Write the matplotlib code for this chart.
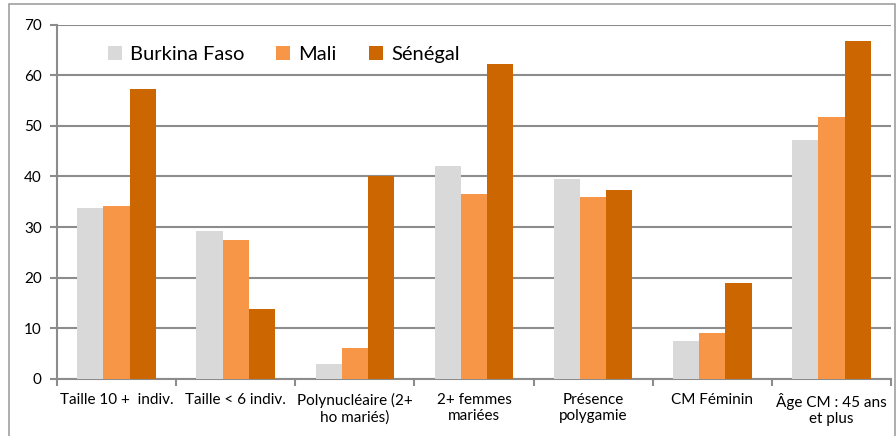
import matplotlib
matplotlib.use("Agg")
import matplotlib.pyplot as plt
import matplotlib.patches as mpatches
import numpy as np

categories = [
    "Taille 10 +  indiv.",
    "Taille < 6 indiv.",
    "Polynucléaire (2+\nho mariés)",
    "2+ femmes\nmariées",
    "Présence\npolygamie",
    "CM Féminin",
    "Âge CM : 45 ans\net plus",
]
series_names = ["Burkina Faso", "Mali", "Sénégal"]
burkina = [33.7, 29.3, 3.0, 42.1, 39.5, 7.5, 47.2]
mali = [34.1, 27.4, 6.1, 36.6, 36.0, 9.1, 51.8]
senegal = [57.2, 13.8, 40.1, 62.3, 37.3, 18.9, 66.7]
yticks = [0, 10, 20, 30, 40, 50, 60, 70]

COLORS = ["#D9D9D9", "#F79646", "#CC6600"]
GRID = "#8C8C8C"
FONT = "Lato"

fig = plt.figure(figsize=(8.96, 4.36), dpi=100)
ax = fig.add_axes([0.0636, 0.1314, 0.9308, 0.8119])

x = np.arange(len(categories))
width = 0.22
for i, (vals, name) in enumerate(zip([burkina, mali, senegal], series_names)):
    ax.bar(x + (i - 1) * width, vals, width, color=COLORS[i], label=name, zorder=3)

ax.set_xlim(-0.5, len(categories) - 0.5)
ax.set_ylim(0, 70)
ax.set_yticks(yticks)
ax.set_yticklabels([str(t) for t in yticks], fontfamily=FONT, fontsize=11)
ax.yaxis.grid(True, color=GRID, linewidth=1.5, zorder=0)

ax.set_xticks(x)
ax.set_xticklabels(categories, fontfamily=FONT, fontsize=11, linespacing=1.25)
ax.set_xticks(np.arange(len(categories) + 1) - 0.5, minor=True)
ax.tick_params(axis="x", which="major", length=0, pad=10)
ax.tick_params(axis="x", which="minor", length=5, color=GRID, width=1.5)
ax.tick_params(axis="y", length=5, color=GRID, width=1.5, pad=6)

for side in ["top", "right"]:
    ax.spines[side].set_visible(False)
for side in ["left", "bottom"]:
    ax.spines[side].set_color(GRID)
    ax.spines[side].set_linewidth(1.5)

leg = ax.legend(
    loc="upper left",
    bbox_to_anchor=(0.039, 0.99),
    ncol=3,
    frameon=False,
    prop={"family": FONT, "size": 14.5},
    handlelength=0.7,
    handleheight=0.7,
    handletextpad=0.4,
    columnspacing=1.6,
)

# outer chart border
fig.patches.append(
    mpatches.Rectangle(
        (9 / 896, -0.01), 886 / 896, 1 - 4 / 436 + 0.01,
        transform=fig.transFigure, fill=False, edgecolor="#A0A0A0", linewidth=1.2,
    )
)

fig.savefig("out.png", dpi=100, facecolor="white")
